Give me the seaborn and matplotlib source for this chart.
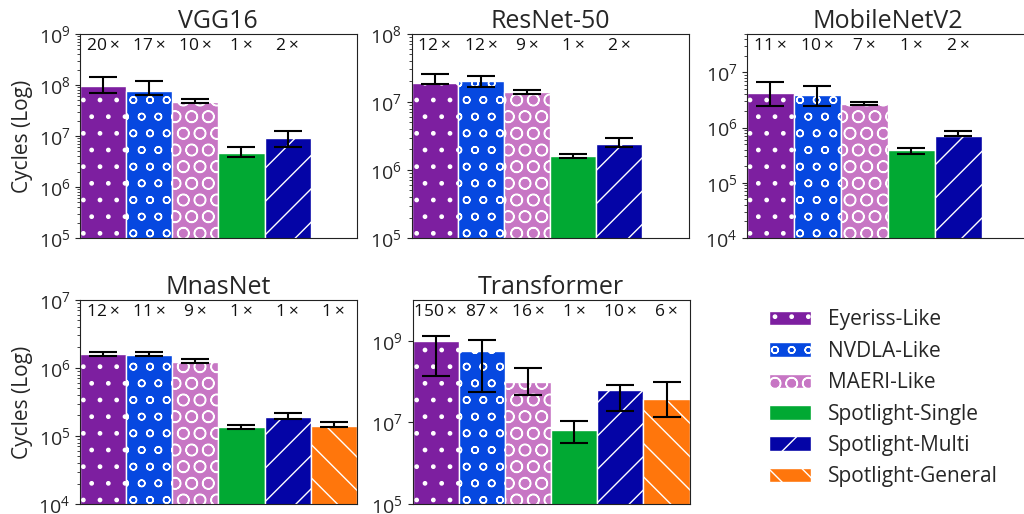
import numpy as np
import pandas as pd
import matplotlib
matplotlib.use('Agg')
import matplotlib.pyplot as plt
import matplotlib.patches as mpatches
import matplotlib.ticker as mticker
import matplotlib.transforms as mtransforms
import seaborn as sns

sns.set_style('ticks')
plt.rcParams['font.family'] = ['Open Sans', 'DejaVu Sans']
plt.rcParams['mathtext.fontset'] = 'custom'
plt.rcParams['mathtext.rm'] = 'Open Sans'
plt.rcParams['mathtext.it'] = 'Open Sans:italic'
plt.rcParams['mathtext.bf'] = 'Open Sans:bold'
plt.rcParams['axes.edgecolor'] = '#222222'
plt.rcParams['hatch.linewidth'] = 1.0

archs = ['Eyeriss-Like', 'NVDLA-Like', 'MAERI-Like',
         'Spotlight-Single', 'Spotlight-Multi', 'Spotlight-General']
colors = ['#7D1FA0', '#0648E0', '#C776C4', '#01A933', '#0404A6', '#FF760C']
hatches = ['.', 'o', 'O', '', '/', '\\']

# cycles (bar height), error bar low / high, speedup over Spotlight-Single
vgg16_cycles = [9.5e7, 7.6e7, 4.7e7, 4.6e6, 9.1e6]
vgg16_low = [7.0e7, 6.3e7, 4.5e7, 3.9e6, 6.1e6]
vgg16_high = [1.4e8, 1.2e8, 5.4e7, 6.1e6, 1.26e7]
vgg16_speedup = [20, 17, 10, 1, 2]

resnet_cycles = [1.9e7, 2.0e7, 1.4e7, 1.6e6, 2.4e6]
resnet_low = [1.83e7, 1.66e7, 1.3e7, 1.5e6, 2.15e6]
resnet_high = [2.6e7, 2.4e7, 1.49e7, 1.7e6, 3.0e6]
resnet_speedup = [12, 12, 9, 1, 2]

mobilenet_cycles = [4.2e6, 3.9e6, 2.7e6, 4.0e5, 7.2e5]
mobilenet_low = [2.5e6, 2.5e6, 2.6e6, 3.3e5, 7.0e5]
mobilenet_high = [6.6e6, 5.7e6, 2.9e6, 4.3e5, 8.7e5]
mobilenet_speedup = [11, 10, 7, 1, 2]

mnasnet_cycles = [1.58e6, 1.57e6, 1.24e6, 1.35e5, 1.9e5, 1.38e5]
mnasnet_low = [1.48e6, 1.48e6, 1.2e6, 1.27e5, 1.8e5, 1.35e5]
mnasnet_high = [1.74e6, 1.7e6, 1.34e6, 1.45e5, 2.15e5, 1.58e5]
mnasnet_speedup = [12, 11, 9, 1, 1, 1]

transformer_cycles = [1.0e9, 5.6e8, 1.0e8, 6.5e6, 6.3e7, 3.8e7]
transformer_low = [1.4e8, 5.4e7, 4.8e7, 3.2e6, 1.9e7, 1.35e7]
transformer_high = [1.3e9, 1.07e9, 2.1e8, 1.1e7, 8.4e7, 1.0e8]
transformer_speedup = [150, 87, 16, 1, 10, 6]

panels = [
    ('VGG16', vgg16_cycles, vgg16_low, vgg16_high, vgg16_speedup, (1e5, 1e9)),
    ('ResNet-50', resnet_cycles, resnet_low, resnet_high, resnet_speedup, (1e5, 1e8)),
    ('MobileNetV2', mobilenet_cycles, mobilenet_low, mobilenet_high, mobilenet_speedup, (1e4, 5e7)),
    ('MnasNet', mnasnet_cycles, mnasnet_low, mnasnet_high, mnasnet_speedup, (1e4, 1e7)),
    ('Transformer', transformer_cycles, transformer_low, transformer_high, transformer_speedup, (1e5, 1e10)),
]

# axes boxes in figure fraction [left, bottom, width, height]
boxes = [
    [0.078, 0.537, 0.2705, 0.397],
    [0.402, 0.537, 0.2705, 0.397],
    [0.7295, 0.537, 0.2750, 0.397],
    [0.078, 0.0195, 0.2705, 0.397],
    [0.403, 0.0195, 0.2705, 0.397],
]

fig = plt.figure(figsize=(10.24, 5.14), dpi=100)

for k, (name, cyc, lo, hi, spd, ylim) in enumerate(panels):
    ax = fig.add_axes(boxes[k])
    n = len(cyc)
    df = pd.DataFrame({'arch': archs[:n], 'cycles': cyc})
    sns.barplot(data=df, x='arch', y='cycles', hue='arch', order=archs,
                hue_order=archs, palette=colors, saturation=1, width=1.0,
                errorbar=None, edgecolor='white', linewidth=1.0, legend=False, ax=ax)
    ax.set_yscale('log')
    for p in ax.patches:
        i = int(round(p.get_x() + p.get_width() / 2))
        p.set_hatch(hatches[i])
        p.set_edgecolor('white')
    xs = np.arange(n)
    cyc_a, lo_a, hi_a = np.array(cyc), np.array(lo), np.array(hi)
    ax.errorbar(xs, cyc_a, yerr=[cyc_a - lo_a, hi_a - cyc_a], fmt='none',
                ecolor='black', elinewidth=1.5, capsize=10, capthick=1.5, zorder=5)
    trans = mtransforms.blended_transform_factory(ax.transData, ax.transAxes)
    for i, s in enumerate(spd):
        ax.text(i, 0.943, f'{s}\u2009×', transform=trans, ha='center', va='center',
                fontsize=12.5, color='#111111')
    ax.set_xlim(-0.5, 5.5)
    ax.set_ylim(*ylim)
    ax.set_xticks([])
    ax.set_xlabel('')
    ax.set_ylabel('Cycles (Log)' if k in (0, 3) else '', fontsize=15)
    ax.set_title(name, fontsize=18, pad=4)
    ax.tick_params(axis='y', labelsize=14)
    if name == 'Transformer':
        ax.set_yticks([1e5, 1e7, 1e9])
        ax.yaxis.set_minor_locator(mticker.NullLocator())

handles = [mpatches.Patch(facecolor=c, edgecolor='white', hatch=h, label=a)
           for a, c, h in zip(archs, colors, hatches)]
fig.legend(handles=handles, loc='center left', bbox_to_anchor=(0.733, 0.225),
           frameon=False, fontsize=15, handlelength=2.0, handleheight=0.7,
           labelspacing=0.5, handletextpad=0.8)

plt.savefig('out.png', dpi=100)
plt.close()
